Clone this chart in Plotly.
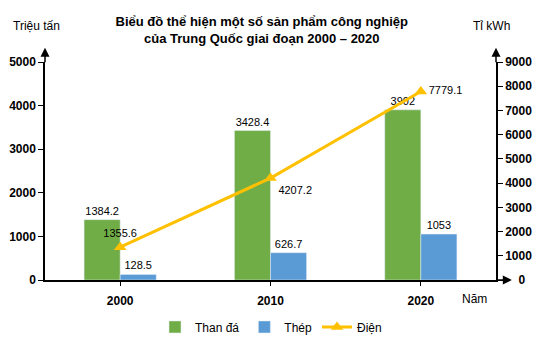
import plotly.graph_objects as go

years = ["2000", "2010", "2020"]
than_da = [1384.2, 3428.4, 3902]
thep = [128.5, 626.7, 1053]
dien = [1355.6, 4207.2, 7779.1]
right_tickvals = [0, 1000, 2000, 3000, 4000, 5000, 6000, 7000, 8000, 9000]
right_ticktext = ["\u00a0\u00a0\u00a0\u00a00", "1000", "2000", "3000", "4000",
                  "5000", "6000", "7000", "8000", "9000"]

FONT = "Liberation Sans"
GREEN = "#70AD47"
BLUE = "#5B9BD5"
GOLD = "#FFC000"

fig = go.Figure()
fig.add_trace(go.Bar(x=years, y=than_da, name="Than đá", marker_color=GREEN,
                     text=[str(v) for v in than_da], textposition="outside",
                     textfont=dict(size=11, color="black", family=FONT),
                     cliponaxis=False))
fig.add_trace(go.Bar(x=years, y=thep, name="Thép", marker_color=BLUE,
                     text=[str(v) for v in thep], textposition="outside",
                     textfont=dict(size=11, color="black", family=FONT),
                     cliponaxis=False))
fig.add_trace(go.Scatter(x=years, y=dien, name="Điện", yaxis="y2",
                         mode="lines+markers+text",
                         line=dict(color=GOLD, width=3),
                         marker=dict(symbol="triangle-up", size=11, color=GOLD),
                         text=[str(v) for v in dien],
                         textposition=["top center", "bottom right", "middle right"],
                         textfont=dict(size=11, color="black", family=FONT),
                         cliponaxis=False))

fig.update_layout(
    width=542, height=342,
    margin=dict(l=45, r=46, t=62, b=62, autoexpand=False),
    paper_bgcolor="white", plot_bgcolor="white",
    font=dict(family=FONT, size=11, color="black"),
    barmode="group", bargap=0.52, bargroupgap=0,
    title=dict(text="<b>Biểu đồ thể hiện một số sản phẩm công nghiệp<br>của Trung Quốc giai đoạn 2000 – 2020</b>",
               x=0.483, xanchor="center", y=0.924, yanchor="middle",
               font=dict(size=13, family=FONT, color="black")),
    xaxis=dict(type="category", showline=True, linecolor="black", linewidth=1.5,
               ticks="outside", ticklen=4, tickcolor="black", ticklabelstandoff=5,
               tickfont=dict(size=12, family=FONT, color="black", weight="bold"),
               showgrid=False, zeroline=False),
    yaxis=dict(range=[0, 5000], dtick=1000, showline=True, linecolor="black", linewidth=1.5,
               ticks="outside", ticklen=5, tickcolor="black",
               tickfont=dict(size=12, family=FONT, color="black", weight="bold"),
               showgrid=False, zeroline=False),
    yaxis2=dict(range=[0, 9000], tickvals=right_tickvals, ticktext=right_ticktext,
                overlaying="y", side="right",
                showline=True, linecolor="black", linewidth=1.5,
                ticks="outside", ticklen=5, tickcolor="black",
                tickfont=dict(size=12, family=FONT, color="black", weight="bold"),
                showgrid=False, zeroline=False),
    legend=dict(orientation="h", x=0.5, xanchor="center", xref="container",
                y=0.044, yanchor="middle", yref="container",
                font=dict(size=12, family=FONT), itemwidth=30),
    showlegend=True,
)

# axis arrows
arrow = dict(showarrow=True, arrowhead=2, arrowsize=1.2, arrowwidth=1.5, arrowcolor="black",
             axref="pixel", ayref="pixel", xref="paper", yref="paper", text="")
fig.add_annotation(x=0, y=1.065, ax=0, ay=16, **arrow)
fig.add_annotation(x=1, y=1.065, ax=0, ay=16, **arrow)
fig.add_annotation(x=1.035, y=0, ax=-16, ay=0, **arrow)

fig.add_annotation(x=-0.018, y=1.165, xref="paper", yref="paper", text="Triệu tấn",
                   xanchor="center", yanchor="middle",
                   showarrow=False, font=dict(size=12, family=FONT))
fig.add_annotation(x=0.991, y=1.165, xref="paper", yref="paper", text="Tỉ kWh",
                   xanchor="center", yanchor="middle",
                   showarrow=False, font=dict(size=12, family=FONT))
fig.add_annotation(x=0.952, y=-0.087, xref="paper", yref="paper", text="Năm",
                   xanchor="center", yanchor="middle",
                   showarrow=False, font=dict(size=12, family=FONT))

fig.write_html("out.html")
